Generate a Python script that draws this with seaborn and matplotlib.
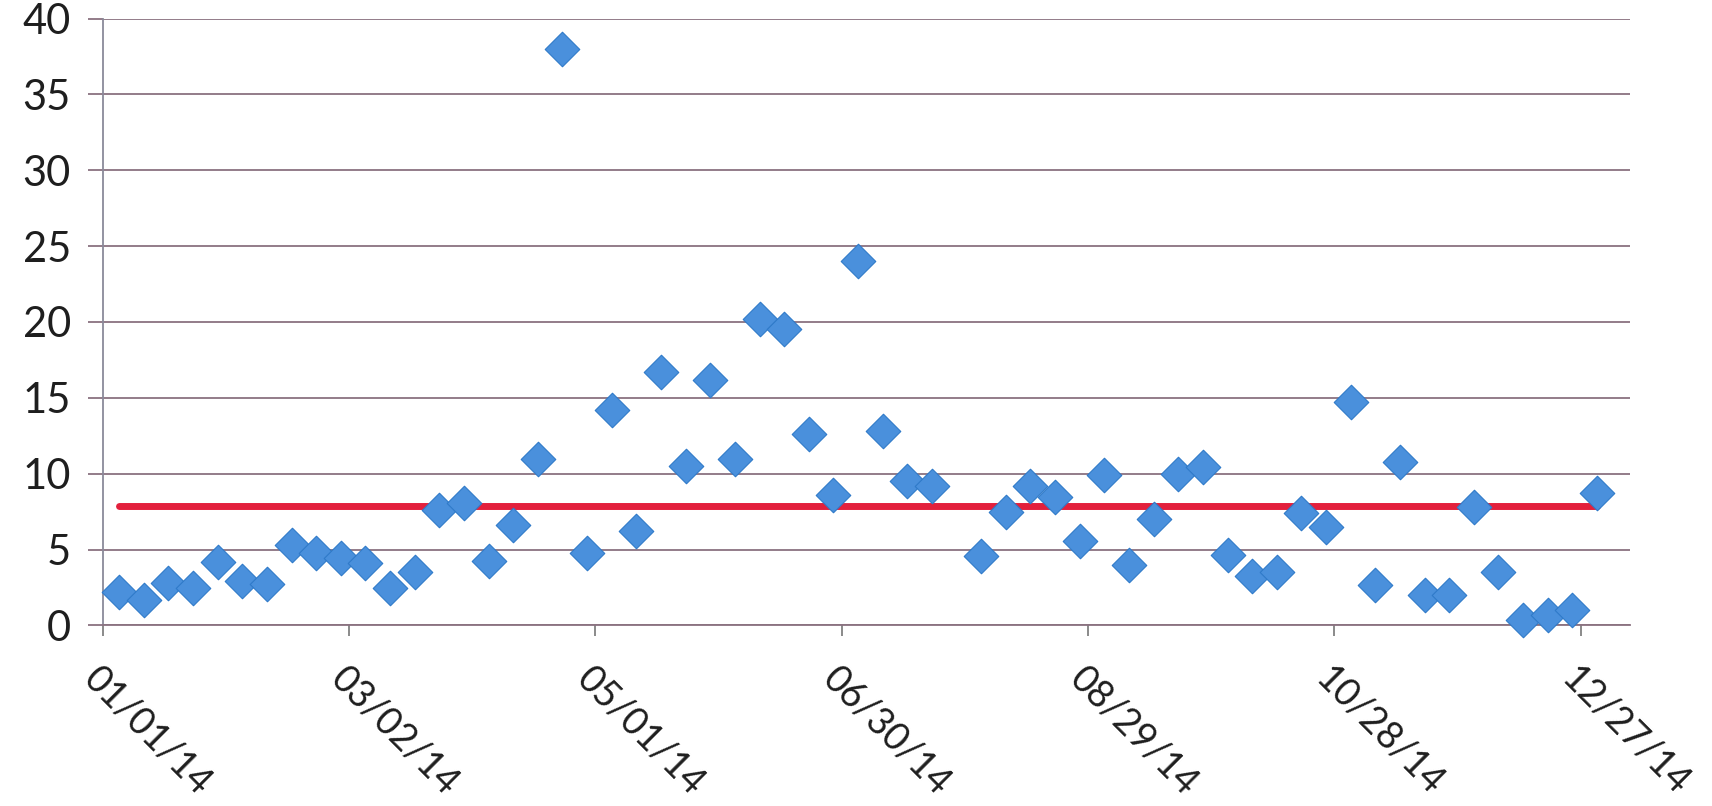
import numpy as np
import pandas as pd
import seaborn as sns
import matplotlib.pyplot as plt

# sample dates (every 6 days, one sample missing at end of July)
dates = ["2014-01-05", "2014-01-11", "2014-01-17", "2014-01-23", "2014-01-29",
         "2014-02-04", "2014-02-10", "2014-02-16", "2014-02-22", "2014-02-28",
         "2014-03-06", "2014-03-12", "2014-03-18", "2014-03-24", "2014-03-30",
         "2014-04-05", "2014-04-11", "2014-04-17", "2014-04-23", "2014-04-29",
         "2014-05-05", "2014-05-11", "2014-05-17", "2014-05-23", "2014-05-29",
         "2014-06-04", "2014-06-10", "2014-06-16", "2014-06-22", "2014-06-28",
         "2014-07-04", "2014-07-10", "2014-07-16", "2014-07-22",
         "2014-08-03", "2014-08-09", "2014-08-15", "2014-08-21", "2014-08-27",
         "2014-09-02", "2014-09-08", "2014-09-14", "2014-09-20", "2014-09-26",
         "2014-10-02", "2014-10-08", "2014-10-14", "2014-10-20", "2014-10-26",
         "2014-11-01", "2014-11-07", "2014-11-13", "2014-11-19", "2014-11-25",
         "2014-12-01", "2014-12-07", "2014-12-13", "2014-12-19", "2014-12-25",
         "2014-12-31"]
values = [2.2, 1.7, 2.8, 2.45, 4.2, 2.9, 2.7, 5.3, 4.8, 4.45,
          4.1, 2.5, 3.5, 7.6, 8.1, 4.25, 6.6, 11.0, 38.0, 4.8,
          14.2, 6.25, 16.7, 10.5, 16.2, 11.0, 20.2, 19.55, 12.65, 8.6,
          24.0, 12.8, 9.5, 9.2,
          4.6, 7.5, 9.2, 8.45, 5.55, 9.9, 4.0, 7.0, 10.0, 10.45,
          4.65, 3.25, 3.5, 7.4, 6.5, 14.7, 2.65, 10.75, 2.0, 2.0,
          7.8, 3.55, 0.35, 0.7, 1.0, 8.7]

tick_dates = ["2014-01-01", "2014-03-02", "2014-05-01", "2014-06-30",
              "2014-08-29", "2014-10-28", "2014-12-27"]
tick_labels = ["01/01/14", "03/02/14", "05/01/14", "06/30/14",
               "08/29/14", "10/28/14", "12/27/14"]

df = pd.DataFrame({"date": pd.to_datetime(dates), "value": values})
# red line = average of all samples
avg = np.mean(values)
avg_df = pd.DataFrame({"date": df["date"].iloc[[0, -1]], "value": [avg, avg]})

sns.set_theme(style="white")
plt.rcParams["font.family"] = ["Lato", "DejaVu Sans"]

grid_c = "#8a7280"
text_c = "#1e1e1e"

fig = plt.figure(figsize=(17.12, 8.06), dpi=100)
ax = fig.add_axes([0.060, 0.224, 0.892, 0.753])

sns.lineplot(data=avg_df, x="date", y="value", color="#e3203c", linewidth=5,
             ax=ax, zorder=3)
sns.scatterplot(data=df, x="date", y="value", marker="D", s=310,
                color="#4a90dc", edgecolor="#2f7ac9", linewidth=0.8,
                ax=ax, zorder=4, clip_on=False)

ax.set_xlim(pd.Timestamp("2014-01-01"), pd.Timestamp("2015-01-08"))
ax.set_ylim(0, 40)
ax.set_yticks(range(0, 41, 5))
ax.yaxis.grid(True, color=grid_c, linewidth=1.3)
ax.set_axisbelow(True)

ax.set_xticks(pd.to_datetime(tick_dates))
ax.set_xticklabels(tick_labels, rotation=-45, ha="left", va="top",
                   rotation_mode="anchor")
ax.tick_params(axis="x", length=8, width=1.2, color="#777777", pad=17,
               labelsize=27, labelcolor=text_c, direction="out", bottom=True)
ax.tick_params(axis="y", length=11, width=1.3, color=grid_c, pad=12,
               labelsize=30, labelcolor=text_c, direction="out", left=True)

for side in ["top", "right"]:
    ax.spines[side].set_visible(False)
ax.spines["left"].set_color("#8a8a9a")
ax.spines["left"].set_linewidth(1.3)
ax.spines["bottom"].set_color(grid_c)
ax.spines["bottom"].set_linewidth(1.3)

ax.set_xlabel("")
ax.set_ylabel("")

fig.savefig("out.png", dpi=100, facecolor="white")
